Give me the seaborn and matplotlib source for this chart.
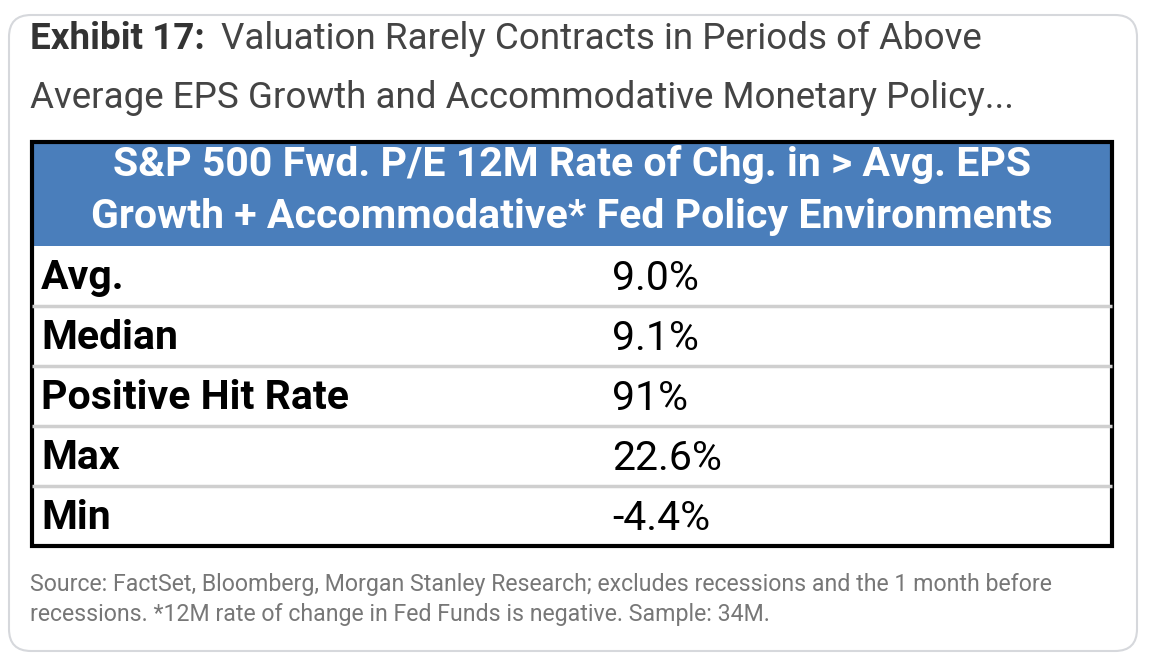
import matplotlib
matplotlib.use("Agg")
import matplotlib.pyplot as plt
from matplotlib.patches import FancyBboxPatch, Rectangle
import seaborn as sns

# datos de la tabla
title_bold = "Exhibit 17:"
title_rest = "Valuation Rarely Contracts in Periods of Above"
title_line2 = "Average EPS Growth and Accommodative Monetary Policy..."
header_lines = ["S&P 500 Fwd. P/E 12M Rate of Chg. in > Avg. EPS",
                "Growth + Accommodative* Fed Policy Environments"]
row_labels = ["Avg.", "Median", "Positive Hit Rate", "Max", "Min"]
row_values = [9.0, 9.1, 91, 22.6, -4.4]
row_decimals = [1, 1, 0, 1, 1]
footnote = ["Source: FactSet, Bloomberg, Morgan Stanley Research; excludes recessions and the 1 month before",
            "recessions. *12M rate of change in Fed Funds is negative. Sample: 34M."]

sns.set_theme(style="white")
plt.rcParams['font.family'] = ['Roboto', 'DejaVu Sans']

W, H = 1154, 666
fig = plt.figure(figsize=(W / 100, H / 100), dpi=100)
ax = fig.add_axes([0, 0, 1, 1])
ax.set_xlim(0, W)
ax.set_ylim(H, 0)
ax.axis('off')

# tarjeta redondeada
card = FancyBboxPatch((9, 15), 1128, 636, boxstyle="round,pad=0,rounding_size=22",
                      facecolor='white', edgecolor='#d6d8dc', linewidth=1.5)
ax.add_patch(card)

# titulo
t = ax.text(30, 39, title_bold, fontsize=26.5, fontweight='bold', color='#333333',
            va='center', ha='left')
fig.canvas.draw()
inv = ax.transData.inverted()
x_end = inv.transform((t.get_window_extent().x1, 0))[0]
ax.text(x_end + 16, 39, title_rest, fontsize=26.5, color='#444444', va='center', ha='left')
ax.text(30, 98, title_line2, fontsize=26.5, color='#444444', va='center', ha='left')

# tabla
left, right = 32, 1112
top, head_bottom, bottom = 142, 246, 546
n = len(row_labels)
row_h = (bottom - head_bottom) / n

ax.add_patch(Rectangle((left, top), right - left, head_bottom - top,
                       facecolor='#4a7ebb', edgecolor='none'))
mid = (left + right) / 2
ax.text(mid, 164, header_lines[0], fontsize=29.5, fontweight='bold', color='white',
        ha='center', va='center')
ax.text(mid, 217, header_lines[1], fontsize=29.5, fontweight='bold', color='white',
        ha='center', va='center')

for i, (lab, val, dec) in enumerate(zip(row_labels, row_values, row_decimals)):
    yc = head_bottom + row_h * (i + 0.5)
    ax.text(41, yc + 2, lab, fontsize=29.5, fontweight='bold', color='black',
            ha='left', va='center')
    ax.text(612, yc + 2, f"{val:.{dec}f}%", fontsize=29.5, color='black',
            ha='left', va='center')
    if i > 0:
        ys = head_bottom + row_h * i
        ax.plot([left, right], [ys, ys], color='#cfcfcf', linewidth=2.5,
                solid_capstyle='butt')

ax.add_patch(Rectangle((left, top), right - left, bottom - top,
                       facecolor='none', edgecolor='black', linewidth=3))

# nota
ax.text(30, 585, footnote[0], fontsize=16.7, color='#777777', ha='left', va='center')
ax.text(30, 615, footnote[1], fontsize=16.7, color='#777777', ha='left', va='center')

fig.savefig("out.png", dpi=100)
